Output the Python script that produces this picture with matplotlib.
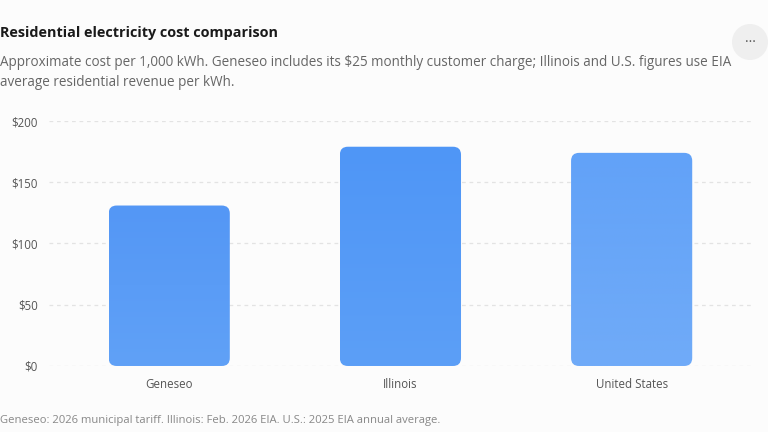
import matplotlib
matplotlib.use("Agg")
import matplotlib.pyplot as plt
import numpy as np
from matplotlib.patches import FancyBboxPatch, Ellipse
from matplotlib.ticker import FuncFormatter

plt.rcParams['font.family'] = ['Open Sans', 'DejaVu Sans']

# data
regions = ["Geneseo", "Illinois", "United States"]
cost_per_1000kwh = [131, 179, 174]
yticks = [0, 50, 100, 150, 200]

# top/bottom gradient colours per bar
grad_top = ["#5497f5", "#4f96f6", "#62a2f8"]
grad_bottom = ["#60a1f7", "#5c9ff7", "#70abf8"]

bg = "#fcfcfc"
fig = plt.figure(figsize=(7.68, 4.32), dpi=100, facecolor=bg)
ax = fig.add_axes([0.0638, 0.1528, 0.9152, 0.5671], facecolor=bg)

x = np.arange(len(regions))
bars = ax.bar(x, cost_per_1000kwh, width=0.524, color="none")
ax.set_xlim(-0.52, 2.52)
ax.set_ylim(0, 200)

# rounded gradient bars
px_x = 231.0  # pixels per category
px_y = 245.0 / 200
r_px = 8
for i, b in enumerate(bars):
    x0, w, h = b.get_x(), b.get_width(), b.get_height()
    patch = FancyBboxPatch((x0, 0), w, h,
                           boxstyle="round,pad=0,rounding_size=%f" % (r_px / px_x),
                           mutation_aspect=(px_x / px_y),
                           facecolor="none", edgecolor="none", zorder=3)
    ax.add_patch(patch)
    c1 = np.array(matplotlib.colors.to_rgb(grad_top[i]))
    c2 = np.array(matplotlib.colors.to_rgb(grad_bottom[i]))
    t = np.linspace(0, 1, 100)[:, None]
    img = (c1 * (1 - t) + c2 * t)[:, None, :]
    im = ax.imshow(img, extent=(x0, x0 + w, 0, h), origin="upper",
                   aspect="auto", zorder=3, interpolation="bilinear")
    im.set_clip_path(patch)

ax.set_yticks(yticks)
ax.yaxis.set_major_formatter(FuncFormatter(lambda v, p: "$%d" % v))
ax.set_xticks(x)
ax.set_xticklabels(regions)
ax.grid(axis="y", color="#e3e3e3", linestyle=(0, (3, 3)), linewidth=0.9, zorder=0)
for s in ax.spines.values():
    s.set_visible(False)
ax.tick_params(length=0, labelsize=8.3, labelcolor="#555555")
ax.tick_params(axis="y", pad=8)
ax.tick_params(axis="x", pad=9)

fig.text(0.0, 1 - 33 / 432, "Residential electricity cost comparison",
         fontsize=10.4, fontweight="bold", color="#1a1a1a", va="center")
fig.text(0.0, 1 - 62 / 432,
         "Approximate cost per 1,000 kWh. Geneseo includes its $25 monthly customer charge; Illinois and U.S. figures use EIA",
         fontsize=9.75, color="#666666", va="center")
fig.text(0.0, 1 - 82 / 432, "average residential revenue per kWh.",
         fontsize=9.75, color="#666666", va="center")
fig.text(0.0, 1 - 421 / 432,
         "Geneseo: 2026 municipal tariff. Illinois: Feb. 2026 EIA. U.S.: 2025 EIA annual average.",
         fontsize=8.1, color="#888888", va="center")

# menu button
circ = Ellipse((750 / 768, 1 - 42 / 432), 36 / 768, 36 / 432, transform=fig.transFigure,
               facecolor="#efefef", edgecolor="none")
fig.patches.append(circ)
fig.text(750 / 768, 1 - 42 / 432, "\u00b7\u00b7\u00b7", ha="center", va="center",
         fontsize=10, color="#555555")

fig.savefig("out.png", dpi=100, facecolor=bg)
